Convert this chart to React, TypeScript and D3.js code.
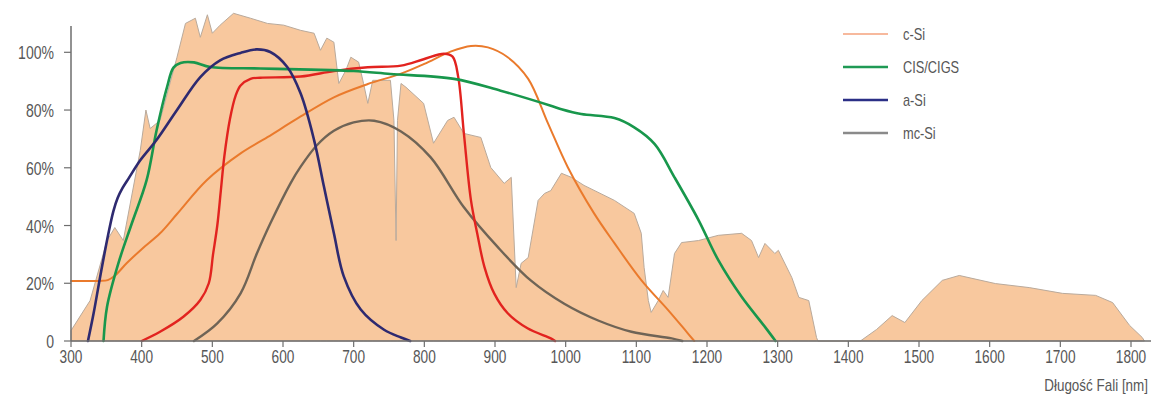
import React, { useEffect, useRef } from "react";
import * as d3 from "d3";

type Pt = [number, number]; // [wavelength nm, percent]

// solar spectrum (drawn against the same % axis)
const spectrum: Pt[] = [
  [300, 3.6], [327, 14], [351, 34.8], [362, 39.3], [374, 34.8], [398, 66], [406, 80], [412, 73.6],
  [426, 76.4], [450, 98.3], [462, 110], [476, 111.8], [483, 105.2], [493, 113], [500, 106.6],
  [511, 109.4], [530, 113.5], [554, 111.8], [578, 110], [601, 109.4], [625, 107.6], [644, 106.6],
  [653, 100.7], [662, 104.9], [672, 103.5], [679, 89.2], [689, 93.8], [696, 98.3], [707, 96.6],
  [714, 89.2], [720, 82.3], [727, 90.3], [752, 90.3], [757, 76.4], [760, 34.8], [762, 76.4],
  [767, 89.2], [774, 87.9], [799, 82.3], [813, 68.5], [833, 76.4], [842, 77.5], [856, 71.9],
  [880, 70.5], [894, 60.1], [913, 54.6], [923, 56.7], [930, 18.5], [937, 26.9], [947, 28.9],
  [961, 48.7], [970, 51.1], [979, 52.1], [994, 58.1], [1008, 56.7], [1026, 53.9], [1069, 48.7],
  [1097, 44.2], [1107, 37.3], [1111, 25.5], [1117, 14], [1121, 9.9], [1131, 14], [1138, 17.5],
  [1145, 15.1], [1154, 30.3], [1164, 34.1], [1188, 34.8], [1216, 36.6], [1249, 37.3], [1263, 34.8],
  [1273, 28.9], [1282, 33.8], [1296, 30.3], [1301, 31.4], [1320, 22], [1330, 15.1], [1344, 14],
  [1355, 1.2], [1357, 0], [1417, 0], [1440, 4], [1462, 8.8], [1480, 6.4], [1504, 14], [1533, 21],
  [1557, 22.7], [1575, 21.7], [1608, 19.9], [1656, 18.5], [1703, 16.5], [1750, 15.8], [1774, 13.3],
  [1798, 5.4], [1816, 1.2], [1819, 0],
];

const cSi: Pt[] = [
  [300, 20.8], [340, 20.8], [352, 21.1], [362, 22.6], [379, 27], [400, 31.8], [426, 37.3], [450, 44],
  [492, 55.7], [540, 65], [578, 70.6], [620, 77], [672, 84.4], [720, 89], [767, 92.6], [800, 96],
  [838, 100.3], [866, 102.2], [890, 101.7], [918, 98.3], [947, 90.8], [975, 75.4], [1003, 60.2],
  [1040, 44.3], [1069, 33.9], [1107, 21.1], [1145, 10.7], [1170, 3.5], [1182, 0],
];

const cisCigs: Pt[] = [
  [346, 0], [351, 11.9], [367, 26.9], [386, 40.7], [407, 55.7], [421, 72.8], [436, 88], [445, 94.7],
  [455, 96.3], [474, 96.5], [497, 94.9], [568, 94.4], [639, 94], [700, 93.5], [752, 92.5], [842, 90.8],
  [908, 86.7], [979, 81.5], [994, 80.3], [1022, 78.6], [1069, 77.2], [1097, 74], [1126, 68.2],
  [1154, 56.7], [1188, 41.9], [1216, 28], [1249, 15.3], [1282, 4.9], [1297, 0],
];

const aSi: Pt[] = [
  [324, 0], [332, 9.6], [343, 24.6], [353, 37.3], [360, 45], [366, 49.5], [373, 53], [382, 56.5],
  [398, 62.6], [421, 69.6], [450, 80], [483, 91.4], [511, 97.2], [540, 99.8], [563, 101], [582, 100.1],
  [606, 94.9], [625, 85.7], [644, 69.6], [658, 53.4], [672, 37.3], [686, 22.4], [710, 10.9], [743, 3.9],
  [767, 1.2], [780, 0],
];

const redSeries: Pt[] = [
  [400, 0], [426, 3.2], [459, 8.4], [483, 14.2], [495, 20], [501, 30], [507, 40], [512, 52], [517, 64],
  [525, 77], [533, 85], [540, 88.5], [554, 90.8], [568, 91.2], [625, 91.6], [672, 93.5], [720, 94.8],
  [767, 95.4], [799, 97.6], [828, 99.5], [840, 98.5], [848, 91.4], [856, 71.8], [866, 48.7], [875, 37.1],
  [885, 25.7], [899, 16.4], [918, 9.6], [946, 4.4], [979, 0.9], [985, 0],
];

const mcSi: Pt[] = [
  [474, 0], [507, 6.1], [540, 16.5], [563, 30.3], [582, 40.7], [611, 54.8], [625, 60.4], [648, 67.8],
  [672, 72.8], [700, 75.7], [729, 76.3], [767, 72.6], [809, 63.6], [856, 46.3], [904, 32.5],
  [951, 20.9], [998, 12.9], [1046, 7.1], [1093, 3.2], [1150, 0.9], [1165, 0],
];

const xTicks = [300, 400, 500, 600, 700, 800, 900, 1000, 1100, 1200, 1300, 1400, 1500, 1600, 1700, 1800];
const yTicks = [0, 20, 40, 60, 80, 100];
const legendNames = ["c-Si", "CIS/CIGS", "a-Si", "mc-Si"];
const legendColors = ["#f4a27c", "#1f9a55", "#2b2f86", "#8a8a8a"];

const FONT = "'Liberation Sans', Arial, sans-serif";

export default function App() {
  const svgRef = useRef<SVGSVGElement | null>(null);

  useEffect(() => {
    if (!svgRef.current) return;
    const svg = d3.select(svgRef.current);
    svg.selectAll("*").remove();

    const x = d3.scaleLinear().domain([300, 1800]).range([71, 1131]);
    const y = d3.scaleLinear().domain([0, 100]).range([341, 52.3]);

    // condensed-looking text helper
    const label = (tx: number, ty: number, s: string, size: number, anchor: string, sx: number) =>
      svg.append("text")
        .attr("transform", `translate(${tx},${ty}) scale(${sx},1)`)
        .attr("text-anchor", anchor)
        .attr("font-family", FONT)
        .attr("font-size", size)
        .attr("fill", "#575757")
        .text(s);

    // spectrum fill
    const area = d3.area<Pt>()
      .x((d) => x(d[0]))
      .y0(y(0))
      .y1((d) => y(d[1]))
      .curve(d3.curveLinear);
    svg.append("path")
      .attr("d", area(spectrum) || "")
      .attr("fill", "#f8c89e")
      .attr("stroke", "#b9aa9c")
      .attr("stroke-width", 1);

    // curves
    const line = d3.line<Pt>()
      .x((d) => x(d[0]))
      .y((d) => y(d[1]))
      .curve(d3.curveCatmullRom.alpha(0.5));

    const curves: [Pt[], string, number][] = [
      [mcSi, "#6f6456", 2.4],
      [cSi, "#ea7a2c", 2],
      [redSeries, "#e2231f", 2.4],
      [cisCigs, "#18974c", 2.6],
      [aSi, "#2e2a70", 2.6],
    ];
    curves.forEach(([data, color, w]) => {
      svg.append("path")
        .attr("d", line(data) || "")
        .attr("fill", "none")
        .attr("stroke", color)
        .attr("stroke-width", w)
        .attr("stroke-linecap", "round");
    });

    // axes
    const axisColor = "#6e6e6e";
    svg.append("line")
      .attr("x1", 71).attr("x2", 1151)
      .attr("y1", y(0)).attr("y2", y(0))
      .attr("stroke", axisColor).attr("stroke-width", 1.5);
    svg.append("line")
      .attr("x1", 71).attr("x2", 71)
      .attr("y1", 26).attr("y2", y(0))
      .attr("stroke", axisColor).attr("stroke-width", 1.5);

    svg.selectAll(".xt")
      .data(xTicks)
      .enter()
      .append("line")
      .attr("x1", (d) => x(d)).attr("x2", (d) => x(d))
      .attr("y1", y(0)).attr("y2", y(0) + 6)
      .attr("stroke", axisColor).attr("stroke-width", 1.2);

    xTicks.forEach((t) => label(x(t), 363, String(t), 18, "middle", 0.76));

    svg.selectAll(".yt")
      .data(yTicks)
      .enter()
      .append("line")
      .attr("x1", 64).attr("x2", 71)
      .attr("y1", (d) => y(d)).attr("y2", (d) => y(d))
      .attr("stroke", axisColor).attr("stroke-width", 1.2);

    yTicks.forEach((t) => label(54, y(t) + 7, t === 0 ? "0" : `${t}%`, 18, "end", 0.78));

    label(1148, 391, "Długość Fali [nm]", 16, "end", 0.84);

    // legend
    legendNames.forEach((name, i) => {
      const ly = 34 + i * 33;
      svg.append("line")
        .attr("x1", 843).attr("x2", 888)
        .attr("y1", ly).attr("y2", ly)
        .attr("stroke", legendColors[i])
        .attr("stroke-width", i === 0 ? 1.5 : 2.5);
      label(903, ly + 6, name, 16, "start", 0.8);
    });
  }, []);

  return (
    <svg
      ref={svgRef}
      width={1151}
      height={403}
      style={{ position: "absolute", left: 0, top: 0, background: "#fff" }}
    />
  );
}
